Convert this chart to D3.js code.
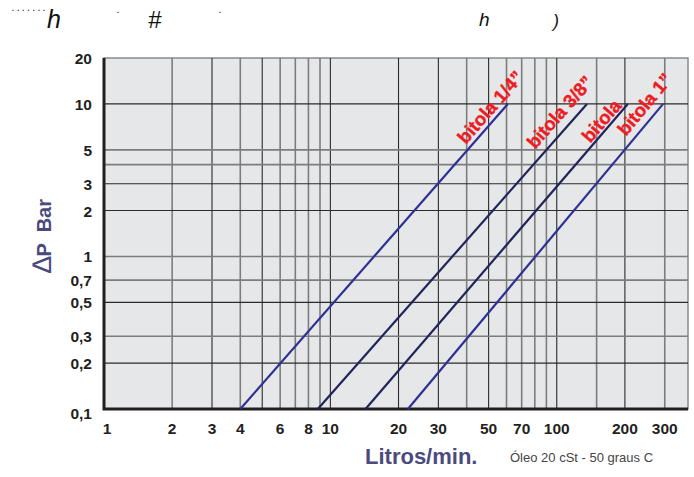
<!DOCTYPE html>
<html>
<head>
<meta charset="utf-8">
<script src="https://cdn.jsdelivr.net/npm/d3@7"></script>
<style>
    body { margin: 0; background: #ffffff; }
    text { font-family: "Liberation Sans", Arial, sans-serif; }
</style>
</head>
<body>
<svg id="plotSvg" width="694" height="477"></svg>
<script>
// curves: flow (litros/min) at the two ends of each line, pressure drop in bar
const series = ["bitola 1/4”", "bitola 3/8”", "bitola", "bitola 1”"];
const flowStart = [4, 8.8, 14.3, 22];
const flowEnd = [60.8, 136, 206, 295];
const dpStart = [0.1, 0.1, 0.1, 0.1];
const dpEnd = [10, 10, 10, 10];

const xTicks = [1, 2, 3, 4, 6, 8, 10, 20, 30, 50, 70, 100, 200, 300];
const xTickLabels = ["1", "2", "3", "4", "6", "8", "10", "20", "30", "50", "70", "100", "200", "300"];
const yTicks = [0.1, 0.2, 0.3, 0.5, 0.7, 1, 2, 3, 5, 10, 20];
const yTickLabels = ["0,1", "0,2", "0,3", "0,5", "0,7", "1", "2", "3", "5", "10", "20"];
const xGrid = [2, 3, 4, 5, 6, 7, 8, 9, 10, 20, 30, 40, 50, 60, 70, 80, 90, 100, 150, 200, 300];
const yGrid = [0.2, 0.3, 0.5, 0.7, 1, 2, 3, 4, 5, 10];

// styling only
const darkX = [3, 5, 10, 20, 30, 50, 100, 200];
const darkY = [10, 3, 2, 0.5, 0.2];
const lineColors = ["#2e3192", "#22245a", "#22245a", "#2e3192"];
const labelOffsets = [[-14, 11], [-24, 15], [-30, 9], [-12, 14]]; // [along, perpendicular] from the line end

const margin = { top: 58, right: 6, bottom: 68, left: 104 },
    width = 694 - margin.left - margin.right,
    height = 477 - margin.top - margin.bottom;

const svg = d3.select("#plotSvg");

const x = d3.scaleLog()
    .domain([1, 380])
    .range([margin.left, margin.left + width]);
const y = d3.scaleLog()
    .domain([0.1, 20])
    .range([margin.top + height, margin.top]);

// plot background
svg.append("rect")
    .attr("x", x(1))
    .attr("y", y(20))
    .attr("width", x(380) - x(1))
    .attr("height", y(0.1) - y(20))
    .attr("fill", "#e6e7e8")
    .attr("stroke", "#8a8a8a")
    .attr("stroke-width", 1.5);

// grid
svg.append("g")
    .selectAll("line")
    .data(xGrid)
    .join("line")
    .attr("x1", d => x(d))
    .attr("x2", d => x(d))
    .attr("y1", y(20))
    .attr("y2", y(0.1))
    .attr("stroke", d => darkX.includes(d) ? "#2b2b2b" : "#7d7d7d")
    .attr("stroke-width", d => darkX.includes(d) ? 1.1 : 1.6);

svg.append("g")
    .selectAll("line")
    .data(yGrid)
    .join("line")
    .attr("x1", x(1))
    .attr("x2", x(380))
    .attr("y1", d => y(d))
    .attr("y2", d => y(d))
    .attr("stroke", d => darkY.includes(d) ? "#2b2b2b" : "#7d7d7d")
    .attr("stroke-width", d => darkY.includes(d) ? 1.1 : 1.6);

// left and bottom axis lines
svg.append("path")
    .attr("d", `M${x(1)},${y(20)}V${y(0.1)}H${x(380)}`)
    .attr("fill", "none")
    .attr("stroke", "#231f20")
    .attr("stroke-width", 3);

// tick labels
svg.append("g")
    .selectAll("text")
    .data(xTicks)
    .join("text")
    .attr("x", d => x(d) + (d === 1 ? 3 : 0))
    .attr("y", y(0.1) + 25)
    .attr("text-anchor", "middle")
    .style("font-size", "15.5px")
    .style("font-weight", "bold")
    .attr("fill", "#231f20")
    .text((d, i) => xTickLabels[i]);

svg.append("g")
    .selectAll("text")
    .data(yTicks)
    .join("text")
    .attr("x", x(1) - 12)
    .attr("y", d => y(d) + (d === 0.1 ? 10 : 6))
    .attr("text-anchor", "end")
    .style("font-size", "15.5px")
    .style("font-weight", "bold")
    .attr("fill", "#231f20")
    .text((d, i) => yTickLabels[i]);

// curves
const curves = series.map((s, i) => ({
    name: s,
    pts: [[flowStart[i], dpStart[i]], [flowEnd[i], dpEnd[i]]],
    color: lineColors[i],
    off: labelOffsets[i]
}));

const line = d3.line()
    .x(d => x(d[0]))
    .y(d => y(d[1]));

svg.append("g")
    .selectAll("path")
    .data(curves)
    .join("path")
    .attr("d", d => line(d.pts))
    .attr("fill", "none")
    .attr("stroke", d => d.color)
    .attr("stroke-width", 2.2);

svg.append("g")
    .selectAll("text")
    .data(curves)
    .join("text")
    .attr("transform", d => {
        const x0 = x(d.pts[0][0]), y0 = y(d.pts[0][1]);
        const x1 = x(d.pts[1][0]), y1 = y(d.pts[1][1]);
        const len = Math.hypot(x1 - x0, y1 - y0);
        const ux = (x1 - x0) / len, uy = (y1 - y0) / len;
        const px = uy, py = -ux; // up-left normal
        const cx = x1 + ux * d.off[0] + px * d.off[1];
        const cy = y1 + uy * d.off[0] + py * d.off[1];
        const ang = Math.atan2(y1 - y0, x1 - x0) * 180 / Math.PI;
        return `translate(${cx},${cy})rotate(${ang})`;
    })
    .attr("text-anchor", "middle")
    .attr("dy", "0.35em")
    .style("font-size", "18.5px")
    .style("font-weight", "bold")
    .attr("fill", "#ed1c24")
    .attr("stroke", "#ed1c24")
    .attr("stroke-width", 0.4)
    .text(d => d.name);

// axis titles
const yTitle = svg.append("text")
    .attr("transform", "translate(51,236)rotate(-90)")
    .attr("text-anchor", "middle")
    .attr("fill", "#4b4a7c")
    .attr("xml:space", "preserve");
yTitle.append("tspan")
    .style("font-size", "27px")
    .style("font-weight", "normal")
    .text("∆");
yTitle.append("tspan")
    .style("font-size", "20px")
    .style("font-weight", "bold")
    .text("P  Bar");

svg.append("text")
    .attr("x", 365)
    .attr("y", 464)
    .style("font-size", "22px")
    .style("font-weight", "bold")
    .attr("fill", "#4b4a7c")
    .text("Litros/min.");

svg.append("text")
    .attr("x", 510)
    .attr("y", 462)
    .style("font-size", "13px")
    .attr("fill", "#444444")
    .text("Óleo 20 cSt - 50 graus C");

// stray glyphs along the top of the source picture
const topGlyphs = [
    { t: ".......", x: 12, y: 11, s: 10, w: "normal", ls: 2.4 },
    { t: "h", x: 47, y: 28, s: 25, w: "normal", ls: 0 },
    { t: ".", x: 117, y: 13, s: 10, w: "normal", ls: 0 },
    { t: "#", x: 148, y: 28, s: 24, w: "normal", ls: 0 },
    { t: ".", x: 219, y: 13, s: 10, w: "normal", ls: 0 },
    { t: "h", x: 479, y: 26, s: 19, w: "normal", ls: 0 },
    { t: ")", x: 553, y: 27, s: 18, w: "normal", ls: 0 }
];
svg.append("g")
    .selectAll("text")
    .data(topGlyphs)
    .join("text")
    .attr("x", d => d.x)
    .attr("y", d => d.y)
    .style("font-size", d => d.s + "px")
    .style("font-weight", d => d.w)
    .style("font-style", "italic")
    .style("letter-spacing", d => d.ls + "px")
    .attr("fill", "#111111")
    .text(d => d.t);
</script>
</body>
</html>
